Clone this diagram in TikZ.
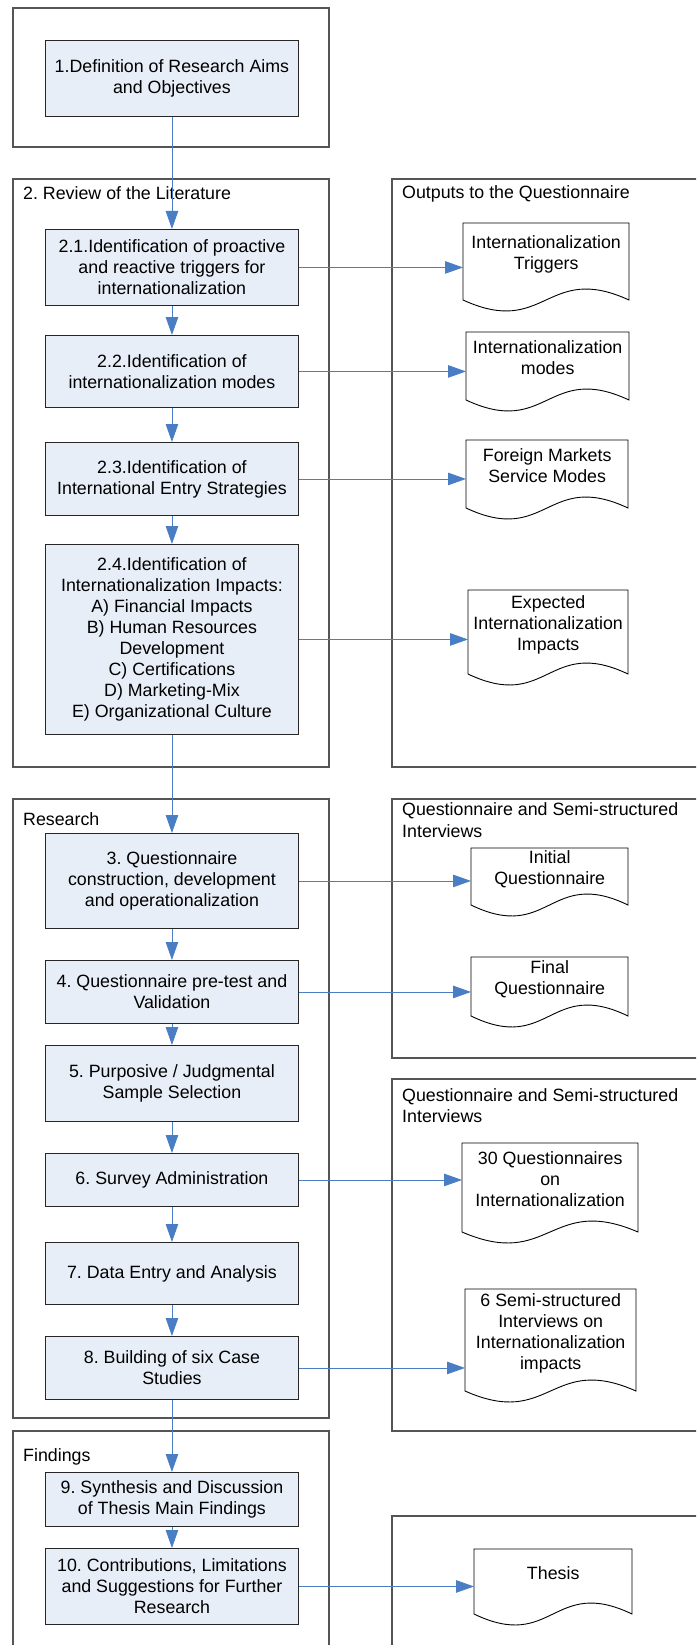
\documentclass[tikz,border=0pt]{standalone}
\usepackage{fontspec}
\setmainfont{Liberation Sans}
\usetikzlibrary{arrows.meta,calc}

\definecolor{boxfill}{RGB}{232,238,247}
\definecolor{flowblue}{RGB}{74,126,196}
\definecolor{framegray}{RGB}{85,85,85}

\newcommand{\mainfs}{\fontsize{17.8pt}{21pt}\selectfont\frenchspacing}

\tikzset{
  frame/.style={draw=framegray, line width=1.1pt},
  stepbox/.style={draw=black!85, line width=0.9pt, fill=boxfill,
    minimum width=253pt, anchor=north west, align=center,
    inner sep=2pt, font=\mainfs},
  docnode/.style={anchor=north west, inner sep=0pt, font=\mainfs},
  docline/.style={draw=black, line width=0.9pt, fill=white},
  flow/.style={draw=flowblue, line width=0.9pt,
    -{Triangle[length=18pt,width=12.5pt]}},
  paneltitle/.style={anchor=base west, inner sep=0pt, font=\mainfs},
}

% document symbol: name, left, top, right, bottom of the sides, text
\newcommand{\docshape}[6]{%
  \draw[docline] (#2,#3) -- (#2,#5)
    .. controls ({(#2+#4)/2},#5+38) and ({(#2+#4)/2},#5-38) .. (#4,#5)
    -- (#4,#3) -- cycle;
  \node[docnode, minimum width={(#4-#2)*1pt}, minimum height={(#5-#3+12)*1pt}]
    (#1) at (#2,#3)
    {\raisebox{12.5pt}[\height][\depth]{\begin{tabular}{@{}c@{}}#6\end{tabular}}};
}

\begin{document}
\begin{tikzpicture}[x=1pt,y=-1pt]
\useasboundingbox (0,0) rectangle (696,1645);
\clip (0,0) rectangle (696,1645);
\fill[white] (0,0) rectangle (696,1645);

% ---- frames on the left ----
\draw[frame] (13,8) rectangle (329,147);
\draw[frame] (13,179) rectangle (329,767);
\draw[frame] (13,799) rectangle (329,1418);
\draw[frame] (13,1431) rectangle (329,1670);

% ---- panels on the right ----
\draw[frame] (392,179) rectangle (720,767);
\draw[frame] (392,799) rectangle (720,1058);
\draw[frame] (392,1079) rectangle (720,1431);
\draw[frame] (392,1516) rectangle (720,1670);

% ---- frame and panel titles ----
\node[paneltitle] (t2) at (23,200) {2. Review of the Literature};
\node[paneltitle] (tR) at (23,825) {Research};
\node[paneltitle] (tF) at (23,1461) {Findings};
\node[paneltitle] (p1) at (402,199) {Outputs to the Questionnaire};
\node[paneltitle] (p2a) at (402,815) {Questionnaire and Semi-structured};
\node[paneltitle] (p2b) at (402,837) {Interviews};
\node[paneltitle] (p3a) at (402,1101) {Questionnaire and Semi-structured};
\node[paneltitle] (p3b) at (402,1122) {Interviews};

% ---- process steps ----
\node[stepbox, minimum height=76pt] (b1) at (45,40)
  {1.Definition of Research Aims\\and Objectives};
\node[stepbox, minimum height=76pt] (b21) at (45,229)
  {2.1.Identification of proactive\\and reactive triggers for\\internationalization};
\node[stepbox, minimum height=72pt] (b22) at (45,335)
  {2.2.Identification of\\internationalization modes};
\node[stepbox, minimum height=73pt] (b23) at (45,442)
  {2.3.Identification of\\International Entry Strategies};
\node[stepbox, minimum height=190pt] (b24) at (45,544)
  {2.4.Identification of\\Internationalization Impacts:\\A) Financial Impacts\\B) Human Resources\\Development\\C) Certifications\\D) Marketing-Mix\\E) Organizational Culture};
\node[stepbox, minimum height=95pt] (b3) at (45,833)
  {3. Questionnaire\\construction, development\\and operationalization};
\node[stepbox, minimum height=63pt] (b4) at (45,960)
  {4. Questionnaire pre-test and\\Validation};
\node[stepbox, minimum height=76pt] (b5) at (45,1045)
  {5. Purposive / Judgmental\\Sample Selection};
\node[stepbox, minimum height=53pt] (b6) at (45,1153)
  {6. Survey Administration};
\node[stepbox, minimum height=62pt] (b7) at (45,1242)
  {7. Data Entry and Analysis};
\node[stepbox, minimum height=63pt] (b8) at (45,1336)
  {8. Building of six Case\\Studies};
\node[stepbox, minimum height=54pt] (b9) at (45,1472)
  {9. Synthesis and Discussion\\of Thesis Main Findings};
\node[stepbox, minimum height=76pt] (b10) at (45,1548)
  {10. Contributions, Limitations\\and Suggestions for Further\\Research};

% ---- outputs ----
\docshape{d1}{463}{223}{629}{300}{Internationalization\\Triggers}
\docshape{d2}{466}{332}{629}{400}{Internationalization\\modes}
\docshape{d3}{466}{440}{628}{508}{Foreign Markets\\Service Modes}
\docshape{d4}{468}{590}{628}{674}{Expected\\Internationalization\\Impacts}
\docshape{d5}{471}{848}{628}{905}{Initial\\Questionnaire}
\docshape{d6}{471}{957}{628}{1016}{Final\\Questionnaire}
\docshape{d7}{462}{1143}{638}{1232}{30 Questionnaires\\on\\Internationalization}
\docshape{d8}{465}{1289}{636}{1391}{6 Semi-structured\\Interviews on\\Internationalization\\impacts}
\docshape{d9}{474}{1549}{632}{1614}{Thesis}

% ---- flow between steps ----
\draw[flow] (b1.south) -- (b21.north);
\draw[flow] (b21.south) -- (b22.north);
\draw[flow] (b22.south) -- (b23.north);
\draw[flow] (b23.south) -- (b24.north);
\draw[flow] (b24.south) -- (b3.north);
\draw[flow] (b3.south) -- (b4.north);
\draw[flow] (b4.south) -- (b5.north);
\draw[flow] (b5.south) -- (b6.north);
\draw[flow] (b6.south) -- (b7.north);
\draw[flow] (b7.south) -- (b8.north);
\draw[flow] (b8.south) -- (b9.north);
\draw[flow] (b9.south) -- (b10.north);

% ---- steps to their outputs ----
\draw[flow] (b21.east) -- (b21.east -| d1.west);
\draw[flow] (b22.east) -- (b22.east -| d2.west);
\draw[flow] (b23.east) -- (b23.east -| d3.west);
\draw[flow] (b24.east) -- (b24.east -| d4.west);
\draw[flow] (b3.east) -- (b3.east -| d5.west);
\draw[flow] (b4.east) -- (b4.east -| d6.west);
\draw[flow] (b6.east) -- (b6.east -| d7.west);
\draw[flow] (b8.east) -- (b8.east -| d8.west);
\draw[flow] (b10.east) -- (b10.east -| d9.west);
\end{tikzpicture}
\end{document}
